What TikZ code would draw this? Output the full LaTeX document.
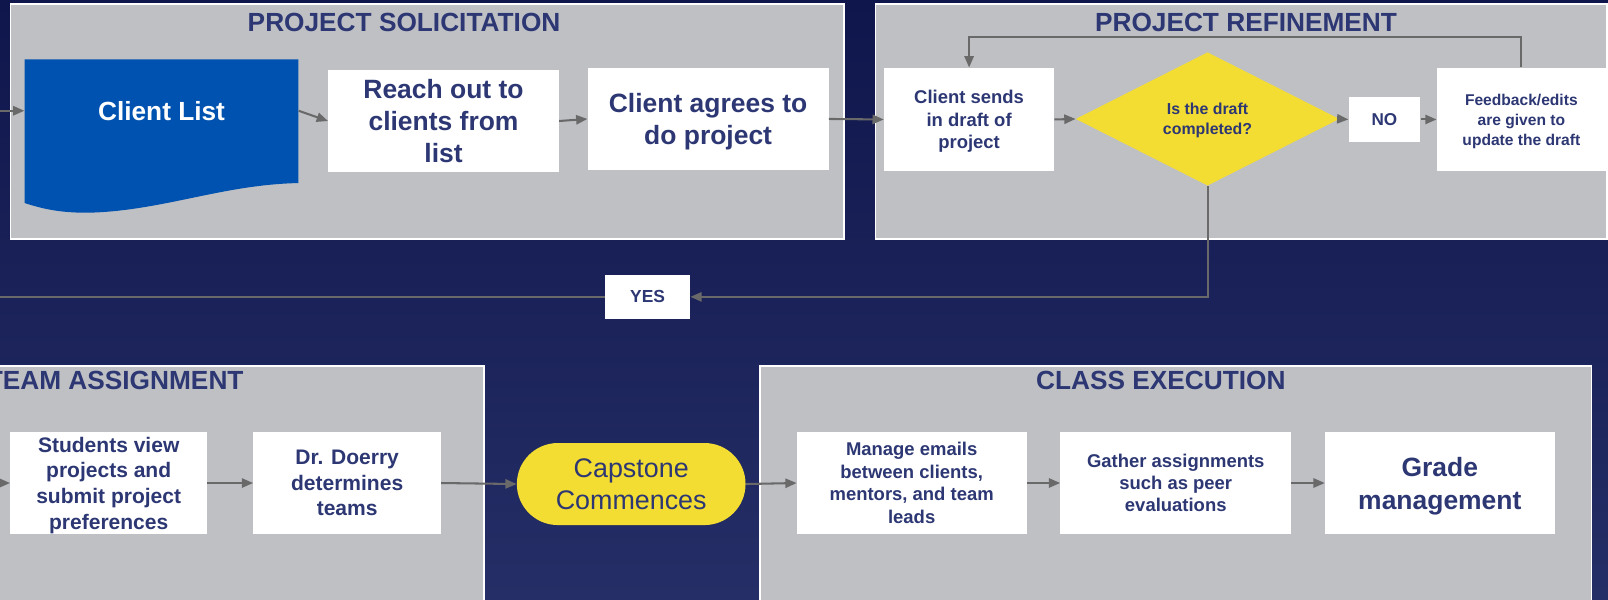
\documentclass[tikz,border=0pt]{standalone}
\usepackage{fontspec}
\setmainfont{Liberation Sans}
\usetikzlibrary{arrows.meta,shapes.geometric}

\definecolor{bgtop}{RGB}{15,22,76}
\definecolor{bgbot}{RGB}{37,46,102}
\definecolor{panelgray}{RGB}{190,192,196}
\definecolor{navy}{RGB}{44,55,115}
\definecolor{listblue}{RGB}{0,82,176}
\definecolor{capyellow}{RGB}{244,221,50}
\definecolor{arrowgray}{RGB}{105,105,105}

\newcommand{\fsz}[2]{\fontsize{#1}{#2}\selectfont}

\tikzset{
  panel/.style={fill=panelgray, draw=white, line width=1.2pt},
  paneltitle/.style={anchor=base, text=navy, font=\bfseries\fsz{25.6}{31}},
  box/.style={fill=white, inner sep=0pt, align=center, text=navy, font=\bfseries,
    text depth=-2pt},
  arr/.style={draw=arrowgray, line width=2pt, -{Triangle[length=11pt,width=9pt]}},
  link/.style={draw=arrowgray, line width=2pt}
}

\begin{document}
\begin{tikzpicture}[x=1pt,y=-1pt]
   \useasboundingbox (0,0) rectangle (1568,585);
   \shade[top color=bgtop, bottom color=bgbot] (0,0) rectangle (1568,585);

   % panels
   \draw[panel] (10,4) rectangle (823,233);
   \draw[panel] (854,4) rectangle (1567,233);
   \draw[panel] (-20,357) rectangle (472,600);
   \draw[panel] (741,357) rectangle (1552,600);
   \node[paneltitle] (soltitle) at (394,31) {PROJECT SOLICITATION};
   \node[paneltitle] (reftitle) at (1215,31) {PROJECT REFINEMENT};
   \node[paneltitle, anchor=base east] (teamtitle) at (241,380) {TEAM ASSIGNMENT};
   \node[paneltitle] (classtitle) at (1132,380) {CLASS EXECUTION};

   % project solicitation
   \fill[listblue] (24,58) -- (291,58) -- (291,178.5)
     .. controls (220,180) and (165,203) .. (97,207)
     .. controls (60,209) and (40,203) .. (24,198) -- cycle;
   \node[minimum width=267pt, minimum height=100pt, inner sep=0pt,
     text=white, font=\bfseries\fsz{25.6}{31}] (clist) at (157.5,108) {Client List};
   \node[box, minimum width=225pt, minimum height=100pt, font=\bfseries\fsz{25.8}{31}]
     (reach) at (432.5,118) {Reach out to\\clients from\\list};
   \node[box, minimum width=235pt, minimum height=100pt, font=\bfseries\fsz{25.8}{31}]
     (agree) at (690.5,116) {Client agrees to\\do project};

   % project refinement
   \node[box, minimum width=166pt, minimum height=101pt, font=\bfseries\fsz{18}{22}]
     (sends) at (945,116.5) {Client sends\\in draft of\\project};
   \node[diamond, fill=capyellow, minimum width=257pt, minimum height=130pt, inner sep=0pt,
     align=center, text=navy, font=\bfseries\fsz{15.5}{19.5}, text depth=-2pt]
     (draft) at (1177.5,116) {Is the draft\\completed?};
   \node[box, minimum width=70pt, minimum height=43pt, font=\bfseries\fsz{16.7}{20}]
     (no) at (1350,116.5) {NO};
   \node[box, minimum width=165pt, minimum height=101pt, font=\bfseries\fsz{15.2}{19.5}]
     (feedback) at (1483.5,116.5) {Feedback/edits\\are given to\\update the draft};
   \node[box, minimum width=83pt, minimum height=43pt, font=\bfseries\fsz{17}{20}]
     (yes) at (631.5,289.5) {YES};

   % team assignment
   \node[box, minimum width=192pt, minimum height=100pt, font=\bfseries\fsz{20.5}{25}]
     (students) at (106,471) {Students view\\projects and\\submit project\\preferences};
   \node[box, minimum width=183pt, minimum height=100pt, font=\bfseries\fsz{20.5}{25}]
     (doerry) at (338.5,471) {Dr. Doerry\\determines\\teams};
   \node[fill=capyellow, inner sep=0pt, align=center, text=navy, rounded corners=40pt,
     minimum width=223pt, minimum height=80pt, font=\fsz{26.2}{31}]
     (capstone) at (615.5,472) {Capstone\\Commences};

   % class execution
   \node[box, minimum width=224pt, minimum height=100pt, font=\bfseries\fsz{18}{22}]
     (manage) at (889,471) {Manage emails\\between clients,\\mentors, and team\\leads};
   \node[box, minimum width=225pt, minimum height=100pt, font=\bfseries\fsz{18}{21.5}]
     (gather) at (1146.5,471) {Gather assignments\\such as peer\\evaluations};
   \node[box, minimum width=224pt, minimum height=100pt, font=\bfseries\fsz{25.8}{32}]
     (grade) at (1404,471) {Grade\\management};

   % connectors
   \coordinate (solin) at (0,108);
   \coordinate (yesout) at (0,289.5);
   \coordinate (teamin) at (0,471);
   \draw[arr] (solin) -- (clist.west);
   \draw[arr] (clist.east) -- (reach.west);
   \draw[arr] (reach.east) -- (agree.west);
   \draw[arr] (agree.east) -- (sends.west);
   \draw[arr] (sends.east) -- (draft.west);
   \draw[arr] (draft.east) -- (no.west);
   \draw[arr] (no.east) -- (feedback.west);
   \draw[arr] (feedback.north) -- ++(0,-30) -| (sends.north);
   \draw[arr] (draft.south) |- (yes.east);
   \draw[link] (yes.west) -- (yesout);
   \draw[arr] (teamin) -- (students.west);
   \draw[arr] (students.east) -- (doerry.west);
   \draw[arr] (doerry.east) -- (capstone.west);
   \draw[arr] (capstone.east) -- (manage.west);
   \draw[arr] (manage.east) -- (gather.west);
   \draw[arr] (gather.east) -- (grade.west);
\end{tikzpicture}
\end{document}
